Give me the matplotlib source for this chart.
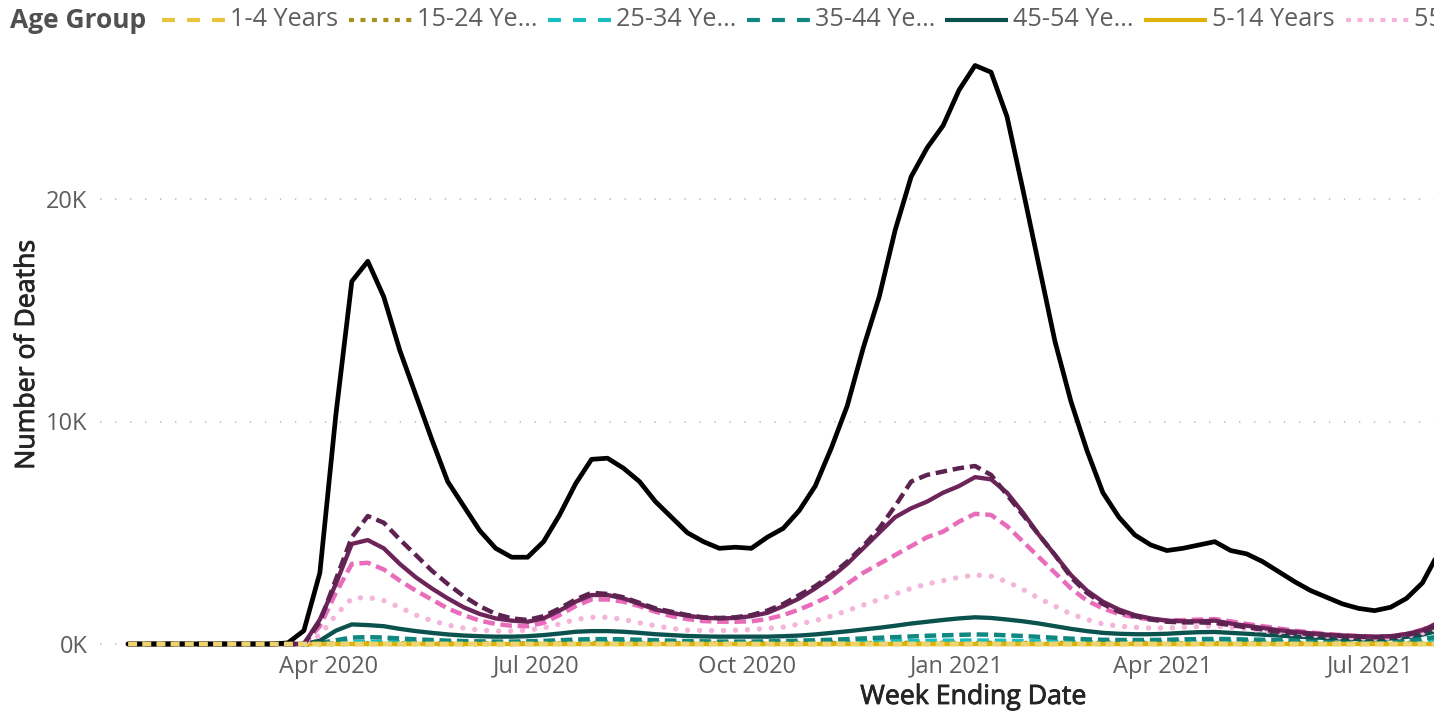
import datetime as dt
import matplotlib
matplotlib.use("Agg")
import matplotlib.pyplot as plt
import matplotlib.dates as mdates
import matplotlib.patheffects as pe
from matplotlib.lines import Line2D

W, H = 1434, 716

# ---------------- data (thousands of deaths, weekly) ----------------
first_week = dt.date(2020, 1, 4)
n_weeks = 83
week_ending = [first_week + dt.timedelta(days=7 * i) for i in range(n_weeks)]

z12 = [0] * 12

all_ages = [0, 0, 0, 0, 0, 0, 0, 0, 0, 0,
            0.05, 0.6, 3.2, 10.3, 16.3, 17.2, 15.6, 13.2, 11.2, 9.2,
            7.3, 6.2, 5.1, 4.3, 3.9, 3.9, 4.6, 5.8, 7.2, 8.3,
            8.35, 7.9, 7.3, 6.4, 5.7, 5.0, 4.6, 4.3, 4.35, 4.3,
            4.8, 5.2, 6.0, 7.1, 8.8, 10.7, 13.3, 15.6, 18.6, 21.0,
            22.3, 23.3, 24.9, 26.0, 25.7, 23.7, 20.4, 17.0, 13.6, 10.9,
            8.7, 6.8, 5.7, 4.9, 4.45, 4.2, 4.3, 4.45, 4.6, 4.2,
            4.05, 3.7, 3.25, 2.8, 2.4, 2.1, 1.8, 1.6, 1.5, 1.65,
            2.05, 2.75, 4.1]

age_85_plus = z12 + [1.0, 2.9, 4.8, 5.75, 5.45, 4.7, 4.0, 3.3, 2.7, 2.15,
                     1.7, 1.35, 1.15, 1.08, 1.25, 1.6, 2.0, 2.3, 2.25, 2.1,
                     1.85, 1.6, 1.45, 1.3, 1.2, 1.17, 1.2, 1.3, 1.5, 1.8,
                     2.2, 2.6, 3.1, 3.7, 4.4, 5.2, 6.2, 7.3, 7.6, 7.75,
                     7.9, 8.0, 7.6, 6.7, 5.8, 4.9, 4.0, 3.0, 2.3, 1.8,
                     1.45, 1.25, 1.1, 1.0, 0.97, 0.97, 0.95, 0.85, 0.75, 0.65,
                     0.55, 0.5, 0.45, 0.4, 0.36, 0.33, 0.3, 0.33, 0.4, 0.55,
                     0.85]

age_75_84 = z12 + [1.1, 2.7, 4.5, 4.67, 4.3, 3.6, 3.0, 2.5, 2.05, 1.65,
                   1.35, 1.15, 1.05, 1.0, 1.15, 1.5, 1.9, 2.2, 2.2, 2.05,
                   1.8, 1.55, 1.4, 1.27, 1.18, 1.15, 1.17, 1.25, 1.4, 1.7,
                   2.05, 2.5, 3.0, 3.6, 4.3, 5.0, 5.7, 6.1, 6.4, 6.8,
                   7.1, 7.5, 7.4, 6.8, 5.9, 4.9, 4.0, 3.1, 2.4, 1.9,
                   1.55, 1.3, 1.15, 1.05, 1.02, 1.02, 1.05, 0.92, 0.82, 0.72,
                   0.62, 0.55, 0.48, 0.42, 0.38, 0.35, 0.33, 0.35, 0.45, 0.62,
                   0.95]

age_65_74 = z12 + [0.8, 2.3, 3.6, 3.65, 3.35, 2.85, 2.4, 2.0, 1.6, 1.3,
                   1.05, 0.9, 0.82, 0.8, 0.95, 1.3, 1.7, 2.0, 2.0, 1.9,
                   1.7, 1.45, 1.25, 1.12, 1.03, 1.0, 1.0, 1.02, 1.12, 1.3,
                   1.55, 1.85, 2.2, 2.7, 3.2, 3.6, 4.0, 4.4, 4.8, 5.05,
                   5.5, 5.85, 5.8, 5.3, 4.6, 3.9, 3.2, 2.5, 1.95, 1.6,
                   1.35, 1.2, 1.1, 1.07, 1.07, 1.1, 1.12, 1.02, 0.9, 0.8,
                   0.7, 0.6, 0.52, 0.45, 0.4, 0.36, 0.33, 0.35, 0.45, 0.65,
                   0.95]

age_55_64 = z12 + [0.4, 1.3, 2.05, 2.1, 1.95, 1.65, 1.3, 1.05, 0.85, 0.72,
                   0.62, 0.58, 0.58, 0.62, 0.72, 0.9, 1.1, 1.2, 1.2, 1.1,
                   0.95, 0.82, 0.7, 0.62, 0.6, 0.6, 0.62, 0.65, 0.7, 0.76,
                   0.9, 1.05, 1.25, 1.5, 1.75, 2.0, 2.25, 2.5, 2.7, 2.85,
                   3.0, 3.1, 3.05, 2.8, 2.45, 2.05, 1.7, 1.35, 1.1, 0.9,
                   0.8, 0.75, 0.72, 0.72, 0.75, 0.78, 0.8, 0.75, 0.68, 0.6,
                   0.52, 0.45, 0.4, 0.35, 0.3, 0.27, 0.25, 0.28, 0.35, 0.5,
                   0.7]

age_45_54 = z12 + [0.15, 0.6, 0.88, 0.85, 0.8, 0.68, 0.58, 0.5, 0.43, 0.38,
                   0.35, 0.33, 0.33, 0.35, 0.4, 0.47, 0.55, 0.58, 0.58, 0.55,
                   0.5, 0.44, 0.4, 0.36, 0.34, 0.33, 0.33, 0.33, 0.33, 0.35,
                   0.38, 0.43, 0.5, 0.57, 0.65, 0.73, 0.82, 0.92, 1.0, 1.08,
                   1.15, 1.2, 1.17, 1.1, 1.02, 0.92, 0.8, 0.68, 0.58, 0.5,
                   0.46, 0.44, 0.44, 0.46, 0.5, 0.53, 0.54, 0.5, 0.46, 0.42,
                   0.38, 0.34, 0.3, 0.27, 0.24, 0.22, 0.22, 0.25, 0.32, 0.42,
                   0.6]

age_35_44 = z12 + [0.04, 0.17, 0.29, 0.31, 0.29, 0.25, 0.21, 0.18, 0.15, 0.13,
                   0.12, 0.11, 0.11, 0.12, 0.14, 0.17, 0.2, 0.22, 0.22, 0.21,
                   0.19, 0.17, 0.15, 0.13, 0.12, 0.11, 0.11, 0.11, 0.12, 0.13,
                   0.15, 0.17, 0.19, 0.22, 0.25, 0.28, 0.31, 0.34, 0.37, 0.39,
                   0.41, 0.43, 0.42, 0.39, 0.36, 0.32, 0.28, 0.24, 0.21, 0.19,
                   0.18, 0.18, 0.18, 0.19, 0.21, 0.22, 0.23, 0.22, 0.2, 0.19,
                   0.17, 0.16, 0.14, 0.13, 0.12, 0.11, 0.11, 0.13, 0.17, 0.23,
                   0.33]

age_25_34 = z12 + [0.01, 0.05, 0.09, 0.1, 0.09, 0.08, 0.07, 0.06, 0.05, 0.05,
                   0.05, 0.05, 0.05, 0.06, 0.07, 0.08, 0.09, 0.1, 0.1, 0.09,
                   0.08, 0.07, 0.06, 0.06, 0.05, 0.05, 0.05, 0.05, 0.05, 0.06,
                   0.06, 0.07, 0.08, 0.09, 0.1, 0.11, 0.12, 0.13, 0.14, 0.15,
                   0.15, 0.16, 0.15, 0.14, 0.13, 0.12, 0.1, 0.09, 0.08, 0.08,
                   0.08, 0.08, 0.08, 0.09, 0.1, 0.1, 0.11, 0.1, 0.1, 0.09,
                   0.08, 0.08, 0.07, 0.06, 0.06, 0.06, 0.06, 0.07, 0.09, 0.12,
                   0.17]

age_15_24 = z12 + [0.0, 0.01, 0.02, 0.02, 0.02, 0.02, 0.02, 0.01, 0.01, 0.01,
                   0.01, 0.01, 0.01, 0.02, 0.02, 0.02, 0.03, 0.03, 0.03, 0.03,
                   0.02, 0.02, 0.02, 0.02, 0.02, 0.02, 0.02, 0.02, 0.02, 0.02,
                   0.02, 0.02, 0.02, 0.03, 0.03, 0.03, 0.03, 0.04, 0.04, 0.04,
                   0.04, 0.04, 0.04, 0.04, 0.03, 0.03, 0.03, 0.03, 0.02, 0.02,
                   0.02, 0.02, 0.02, 0.02, 0.02, 0.02, 0.02, 0.02, 0.02, 0.02,
                   0.02, 0.02, 0.02, 0.02, 0.02, 0.02, 0.02, 0.02, 0.03, 0.04,
                   0.05]

age_5_14 = [0] * 13 + [0.001] * 70
age_1_4 = [0] * 13 + [0.001] * 70
age_under_1 = [0] * 13 + [0.001] * 70

series_names = ["1-4 Years", "15-24 Years", "25-34 Years", "35-44 Years",
                "45-54 Years", "5-14 Years", "55-64 Years", "65-74 Years",
                "75-84 Years", "85 Years and over", "All Ages", "Under 1 year"]
legend_labels = ["1-4 Years", "15-24 Ye...", "25-34 Ye...", "35-44 Ye...",
                 "45-54 Ye...", "5-14 Years", "55-64 Ye...", "65-74 Ye...",
                 "75-84 Ye...", "85 Years ...", "All Ages", "Under 1 ye..."]
series_values = [age_1_4, age_15_24, age_25_34, age_35_44, age_45_54, age_5_14,
                 age_55_64, age_65_74, age_75_84, age_85_plus, all_ages,
                 age_under_1]

y_ticks = [0, 10, 20]
y_tick_labels = ["0K", "10K", "20K"]
x_tick_dates = [dt.date(2020, 4, 1), dt.date(2020, 7, 1), dt.date(2020, 10, 1),
                dt.date(2021, 1, 1), dt.date(2021, 4, 1), dt.date(2021, 7, 1)]
x_tick_labels = ["Apr 2020", "Jul 2020", "Oct 2020", "Jan 2021", "Apr 2021",
                 "Jul 2021"]

# ---------------- styles ----------------
colors = ["#E8C33C", "#A8921E", "#1BBCC0", "#10877F", "#0B524F", "#DDB20A",
          "#F5B5DB", "#E96CBA", "#6C2459", "#5C2350", "#000000", "#EDD46E"]
kinds = ["dashed", "dotted", "dashed", "dashed", "solid", "solid",
         "dotted", "dashed", "solid", "dashed", "solid", "dotted"]

plt.rcParams["font.family"] = ["Open Sans", "DejaVu Sans"]

TICK_C = "#605E5C"
TITLE_C = "#252423"


def line_kw(kind, name):
    if kind == "solid":
        return dict(linestyle="-", solid_joinstyle="round", solid_capstyle="round",
                    lw=3.4 if name == "All Ages" else 3.1)
    if kind == "dashed":
        return dict(linestyle=(0, (2.6, 1.3)), dash_capstyle="butt",
                    dash_joinstyle="round", lw=3.2)
    if name == "Under 1 year":
        return dict(linestyle=(0, (1.9, 1.1)), dash_capstyle="butt", lw=3.4)
    return dict(linestyle=(0, (0.01, 2.2)), dash_capstyle="round",
                dash_joinstyle="round", lw=3.9)


fig = plt.figure(figsize=(W / 100, H / 100), dpi=100)
ax_left, ax_bottom_px, ax_top_px = 100, 652, 45
ax = fig.add_axes([ax_left / W, (H - ax_bottom_px) / H, (W - ax_left) / W,
                   (ax_bottom_px - ax_top_px) / H])

x = mdates.date2num(week_ending)
for vals, c, k, name in zip(series_values, colors, kinds, series_names):
    ax.plot(x, vals, color=c, label=name, **line_kw(k, name))

# axis scales (pixel-matched)
apr = mdates.date2num(dt.date(2020, 4, 1))
px_per_day = 1041 / 456.0
ax.set_xlim(apr - (329 - ax_left) / px_per_day, apr + (W - 329) / px_per_day)
px_per_k = 22.25
ax.set_ylim(-(ax_bottom_px - 644) / px_per_k, (644 - ax_top_px) / px_per_k)

ax.set_yticks(y_ticks)
ax.set_yticklabels(y_tick_labels)
ax.set_xticks(mdates.date2num(x_tick_dates))
ax.set_xticklabels(x_tick_labels)
ax.tick_params(axis="both", length=0, labelsize=17, labelcolor=TICK_C)
ax.tick_params(axis="y", pad=9)
ax.tick_params(axis="x", pad=2)
for s in ax.spines.values():
    s.set_visible(False)
ax.grid(axis="y", color="#C4C4C4", lw=1.3, linestyle=(0, (0.8, 7.5)))
ax.grid(axis="x", visible=False)
ax.set_axisbelow(True)

title_fx = [pe.withStroke(linewidth=0.6, foreground=TITLE_C)]
fig.text(27 / W, 1 - 355 / H, "Number of Deaths", rotation=90, ha="center",
         va="center", fontsize=19.2, color=TITLE_C, path_effects=title_fx)
fig.text(973 / W, 1 - 697 / H, "Week Ending Date", ha="center", va="center",
         fontsize=19.2, color=TITLE_C, path_effects=title_fx)

# ---------------- legend (top, clipped at the right edge) ----------------
fig.canvas.draw()
rend = fig.canvas.get_renderer()
ly = 1 - 20 / H
fig.text(10 / W, ly, "Age Group", ha="left", va="center", fontsize=19,
         fontweight="bold", color="#505050")
xpos = 162
for lab, c, k in zip(legend_labels, colors, kinds):
    if k == "solid":
        kw = dict(linestyle="-", solid_capstyle="butt")
    elif k == "dashed":
        kw = dict(linestyle=(0, (3.1, 2.9)), dash_capstyle="butt")
    else:
        kw = dict(linestyle=(0, (1.2, 1.55)), dash_capstyle="butt")
    fig.add_artist(Line2D([xpos / W, (xpos + 63) / W], [ly, ly], color=c, lw=3.0,
                          transform=fig.transFigure, **kw))
    tt = fig.text((xpos + 68) / W, ly, lab, ha="left", va="center",
                  fontsize=18.2, color=TICK_C)
    bb = tt.get_window_extent(renderer=rend)
    xpos = bb.x1 + 10.5

fig.savefig("out.png", dpi=100)
